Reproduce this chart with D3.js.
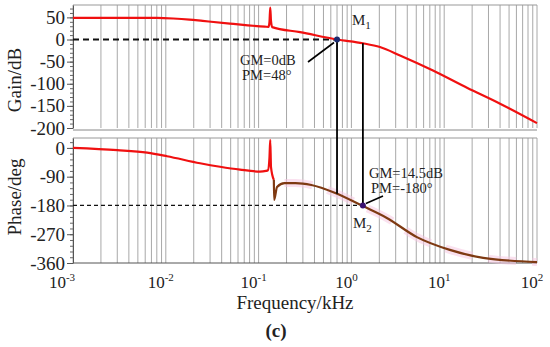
<!DOCTYPE html>
<html>
<head>
<meta charset="utf-8">
<script src="https://cdn.jsdelivr.net/npm/d3@7"></script>
<style>
  body { margin: 0; background: #fff; }
  svg { display: block; }
</style>
</head>
<body>
<div id="bode"></div>
<script>
// gain curve (red), freq in kHz
var gainFreq = [0.001, 0.003, 0.008, 0.012, 0.018, 0.025, 0.049, 0.117, 0.128, 0.131, 0.1335, 0.136, 0.14, 0.28, 0.7, 1.33, 2.03, 3.34, 7.57, 17.6, 40, 100];
var gainDb = [49, 49, 48.8, 47.5, 45, 42, 36, 29, 28.5, 40, 72, 42, 28, 16.6, 0, -8.4, -17, -36, -70, -109, -145, -189];

// phase curve, red part up to the spike
var phaseRedFreq = [0.001, 0.003, 0.0063, 0.0103, 0.0234, 0.0384, 0.063, 0.1035, 0.12, 0.126, 0.131, 0.1335, 0.136, 0.146];
var phaseRedDeg = [0, -7, -15, -26, -48, -59, -68, -74, -72, -70, -30, 25, -60, -100];

// phase curve, brown part after the spike
var phaseBrownFreq = [0.146, 0.147, 0.158, 0.19, 0.25, 0.37, 0.67, 1.33, 2.41, 5.08, 11.5, 26.3, 100];
var phaseBrownDeg = [-100, -163, -122, -110, -110, -116, -141, -182, -219, -279, -319, -344, -357];

// tick labels
var gainTicks = [50, 0, -50, -100, -150, -200];
var phaseTicks = [0, -90, -180, -270, -360];
var decadeExps = [-3, -2, -1, 0, 1, 2];

// the two marked points
var m1 = { freq: 0.7, gain: 0 };
var m2 = { freq: 1.33, phase: -180 };

var width = 550, height = 347;
var font = "'Liberation Serif', 'DejaVu Serif', serif";

var svg = d3.select("#bode")
  .append("svg")
  .attr("width", width)
  .attr("height", height)
  .style("font-family", font);

// scales
var x = d3.scaleLog().domain([1e-3, 1e2]).range([73, 537]);
var gainY = d3.scaleLinear().domain([-200, 78]).range([128, 5]);
var phaseY = d3.scaleLinear().domain([-360, 31]).range([263, 138]);

// grid freqs 1..9 per decade
var gridFreq = [];
decadeExps.slice(0, 5).forEach(e => {
  for (var k = 1; k <= 9; k++) gridFreq.push(k * Math.pow(10, e));
});
gridFreq.push(100);

// draw vertical grid for each panel
[[gainY, 78, -200], [phaseY, 31, -360]].forEach(p => {
  svg.append("g")
    .selectAll("line")
    .data(gridFreq)
    .enter()
    .append("line")
    .attr("x1", d => x(d))
    .attr("x2", d => x(d))
    .attr("y1", p[0](p[1]))
    .attr("y2", p[0](p[2]))
    .attr("stroke", "#a8a8a8")
    .attr("stroke-width", 1);

  // top frame line
  svg.append("line")
    .attr("x1", x(1e-3)).attr("x2", x(1e2))
    .attr("y1", p[0](p[1])).attr("y2", p[0](p[1]))
    .attr("stroke", "#999");
});

// bottom line of upper panel
svg.append("line")
  .attr("x1", x(1e-3)).attr("x2", x(1e2))
  .attr("y1", gainY(-200) + 2).attr("y2", gainY(-200) + 2)
  .attr("stroke", "#888");

// x axis of lower panel
svg.append("line")
  .attr("x1", x(1e-3)).attr("x2", x(1e2))
  .attr("y1", phaseY(-360)).attr("y2", phaseY(-360))
  .attr("stroke", "#555");

// y axes with minor ticks
function yAxes(scale, major, minor) {
  svg.append("g")
    .attr("transform", `translate(${x(1e-3)},0)`)
    .call(d3.axisLeft(scale).tickValues(minor).tickSize(3).tickFormat("").tickSizeOuter(0))
    .call(g => g.selectAll("line").attr("stroke", "#666"))
    .call(g => g.select(".domain").attr("stroke", "#555"));

  svg.append("g")
    .attr("transform", `translate(${x(1e-3)},0)`)
    .call(d3.axisLeft(scale).tickValues(major).tickSize(6).tickPadding(2).tickFormat(d => String(d)))
    .call(g => g.select(".domain").remove())
    .call(g => g.selectAll("line").attr("stroke", "#555"))
    .call(g => g.selectAll("text")
      .style("font-family", font)
      .style("font-size", "19px")
      .attr("fill", "#222"));
}
yAxes(gainY, gainTicks, d3.range(-200, 78, 10));
yAxes(phaseY, phaseTicks, d3.range(-360, 31, 18));

// x tick labels 10^n
var xl = svg.append("g")
  .selectAll("text")
  .data(decadeExps)
  .enter()
  .append("text")
  .attr("x", (d, i) => x(Math.pow(10, d)) - (i == 0 ? 11 : 5))
  .attr("y", 288)
  .attr("text-anchor", "middle")
  .style("font-size", "17px")
  .attr("fill", "#222");
xl.append("tspan").text("10");
xl.append("tspan").attr("dy", -7).style("font-size", "11px").text(d => String(d));

// axis titles
svg.append("text")
  .attr("transform", "translate(21,80) rotate(-90)")
  .attr("text-anchor", "middle")
  .style("font-size", "19px")
  .attr("fill", "#222")
  .text("Gain/dB");

svg.append("text")
  .attr("transform", "translate(21,197) rotate(-90)")
  .attr("text-anchor", "middle")
  .style("font-size", "19px")
  .attr("fill", "#222")
  .text("Phase/deg");

svg.append("text")
  .attr("x", 295)
  .attr("y", 309)
  .attr("text-anchor", "middle")
  .style("font-size", "19px")
  .attr("fill", "#222")
  .text("Frequency/kHz");

svg.append("text")
  .attr("x", 276)
  .attr("y", 337)
  .attr("text-anchor", "middle")
  .style("font-size", "19px")
  .attr("font-weight", "bold")
  .attr("fill", "#222")
  .text("(c)");

// dashed reference lines
svg.append("line")
  .attr("x1", x(1e-3)).attr("x2", x(m1.freq))
  .attr("y1", gainY(0)).attr("y2", gainY(0))
  .attr("stroke", "#111").attr("stroke-width", 1.8)
  .attr("stroke-dasharray", "6,4");

svg.append("line")
  .attr("x1", x(1e-3)).attr("x2", x(m2.freq))
  .attr("y1", phaseY(-180)).attr("y2", phaseY(-180))
  .attr("stroke", "#111").attr("stroke-width", 1.2)
  .attr("stroke-dasharray", "4,3");

// curves, smoothed
var gainLine = d3.line().x(d => x(d[0])).y(d => gainY(d[1])).curve(d3.curveMonotoneX);
var phaseLine = d3.line().x(d => x(d[0])).y(d => phaseY(d[1])).curve(d3.curveMonotoneX);

var brownPts = d3.zip(phaseBrownFreq, phaseBrownDeg);

// faint pink halo behind brown part
svg.append("path")
  .datum(brownPts.slice(3))
  .attr("d", phaseLine)
  .attr("fill", "none")
  .attr("stroke", "#f6c8e2")
  .attr("stroke-width", 8)
  .attr("stroke-opacity", 0.55)
  .attr("stroke-dasharray", "28,16");

svg.append("path")
  .datum(d3.zip(gainFreq, gainDb))
  .attr("d", gainLine)
  .attr("fill", "none")
  .attr("stroke", "#f01010")
  .attr("stroke-width", 2.2);

svg.append("path")
  .datum(d3.zip(phaseRedFreq, phaseRedDeg))
  .attr("d", phaseLine)
  .attr("fill", "none")
  .attr("stroke", "#f01010")
  .attr("stroke-width", 2.2);

svg.append("path")
  .datum(brownPts)
  .attr("d", phaseLine)
  .attr("fill", "none")
  .attr("stroke", "#7e3a12")
  .attr("stroke-width", 2.2);

// value of a curve at freq (log interp), for where the drop lines hit
function at(fs, vs, f) {
  var lf = fs.map(Math.log10);
  return d3.scaleLinear().domain(lf).range(vs)(Math.log10(f));
}

// vertical drop lines
svg.append("line")
  .attr("x1", x(m1.freq)).attr("x2", x(m1.freq))
  .attr("y1", gainY(m1.gain))
  .attr("y2", phaseY(at(phaseBrownFreq, phaseBrownDeg, m1.freq)))
  .attr("stroke", "#000").attr("stroke-width", 1.8);

svg.append("line")
  .attr("x1", x(m2.freq)).attr("x2", x(m2.freq))
  .attr("y1", gainY(at(gainFreq, gainDb, m2.freq)))
  .attr("y2", phaseY(m2.phase))
  .attr("stroke", "#000").attr("stroke-width", 1.8);

// marker dots
svg.append("circle")
  .attr("cx", x(m1.freq)).attr("cy", gainY(m1.gain))
  .attr("r", 3).attr("fill", "#1a2a6e");

svg.append("circle")
  .attr("cx", x(m2.freq)).attr("cy", phaseY(m2.phase))
  .attr("r", 3).attr("fill", "#3a1270");

// leader lines
svg.append("line")
  .attr("x1", 308).attr("y1", 62)
  .attr("x2", x(m1.freq) - 3).attr("y2", gainY(m1.gain) + 3)
  .attr("stroke", "#000").attr("stroke-width", 1.6);

svg.append("line")
  .attr("x1", 383).attr("y1", 196)
  .attr("x2", x(m2.freq) + 3).attr("y2", phaseY(m2.phase) - 2)
  .attr("stroke", "#000").attr("stroke-width", 1.6);

// annotation text
function note(tx, ty, txt) {
  svg.append("text")
    .attr("x", tx).attr("y", ty)
    .style("font-size", "14.5px")
    .attr("fill", "#222")
    .text(txt);
}
note(240, 65, "GM=0dB");
note(242, 80, "PM=48°");
note(369, 178, "GM=14.5dB");
note(371, 193, "PM=-180°");

function mLabel(tx, ty, sub) {
  var t = svg.append("text")
    .attr("x", tx).attr("y", ty)
    .style("font-size", "15px")
    .attr("fill", "#222");
  t.append("tspan").text("M");
  t.append("tspan").attr("dy", 4).style("font-size", "11px").text(sub);
}
mLabel(352, 25, "1");
mLabel(353, 228, "2");
</script>
</body>
</html>
